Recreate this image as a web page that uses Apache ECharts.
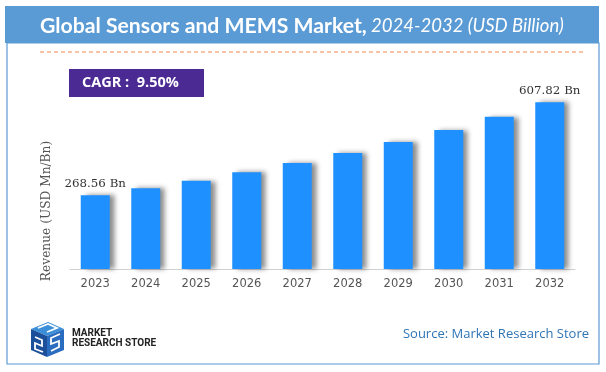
<!DOCTYPE html>
<html><head><meta charset="utf-8">
<script src="https://cdn.jsdelivr.net/npm/echarts@6/dist/echarts.min.js"></script>
<style>html,body{margin:0;padding:0;background:#fff;}#c{width:606px;height:372px;}</style>
</head><body><div id="c"></div>
<script>
const categories = ['2023','2024','2025','2026','2027','2028','2029','2030','2031','2032'];
const revenue = [268.56, 294.07, 322.01, 352.60, 386.10, 422.78, 462.94, 506.92, 555.08, 607.82];
const labelledIdx = [0, 9];
const titleMain = 'Global Sensors and MEMS Market,';
const titleSub = ' 2024-2032 (USD Billion)';
const cagrText = 'CAGR :  9.50%';
const yName = 'Revenue (USD Mn/Bn)';
const sourceText = 'Source: Market Research Store';

const chart = echarts.init(document.getElementById('c'), null, {renderer:'canvas'});
const barData = revenue.map((v,i)=>({
  value: v,
  label: {show: labelledIdx.includes(i), position:'top', distance:5,
    formatter: p => p.value.toFixed(2)+' Bn',
    fontFamily:'DejaVu Serif', fontSize:11.8, color:'#333'}
}));
chart.setOption({
  animation:false,
  grid:{left:70, right:31, top:77, bottom:103},
  xAxis:{type:'category', data:categories,
    axisLine:{lineStyle:{color:'#d0d0d0'}}, axisTick:{show:false},
    axisLabel:{fontFamily:'DejaVu Sans', fontSize:11.5, color:'#555', margin:9}},
  yAxis:{type:'value', min:0, max:700, show:false},
  series:[{type:'bar', data:barData, barWidth:29,
    itemStyle:{color:'#1E90FF', shadowColor:'rgba(0,0,0,0.45)', shadowBlur:5, shadowOffsetX:5, shadowOffsetY:0}}],
  graphic:[
    {type:'rect', shape:{x:7, y:43, width:592, height:321}, style:{fill:'none', stroke:'#5B9BD5', lineWidth:1.2}, z:1},
    {type:'rect', shape:{x:5, y:6, width:594, height:37}, style:{fill:'#5B9BD5'}, z:2},
    {type:'text', x:40, y:26, style:{text:'{a|'+titleMain+'}{b|'+titleSub+'}', verticalAlign:'middle',
      rich:{a:{fontFamily:'Lato', fontWeight:'bold', fontSize:21.2, fill:'#fff'},
            b:{fontFamily:'Lato', fontStyle:'italic', fontSize:18.5, fill:'#fff'}}}, z:3},
    {type:'line', shape:{x1:40, y1:52, x2:583, y2:52}, style:{stroke:'#F0894A', lineWidth:1, lineDash:[4,3]}, z:2},
    {type:'rect', shape:{x:69, y:69, width:135, height:28}, style:{fill:'#4B2A94'}, z:2},
    {type:'text', x:82, y:83, style:{text:cagrText, fill:'#fff', fontFamily:'Open Sans', fontWeight:'bold', fontSize:14.5, verticalAlign:'middle'}, z:3},
    {type:'text', x:47, y:211, rotation:Math.PI/2, style:{text:yName, fill:'#555', fontFamily:'DejaVu Serif', fontSize:12.2, align:'center', verticalAlign:'middle'}, z:3},
    // logo
    {type:'polygon', shape:{points:[[31,329],[48,322],[64,329],[47,336]]}, style:{fill:'#3B8ED8'}, z:3},
    {type:'polygon', shape:{points:[[31,329],[47,336],[47,357],[31,350]]}, style:{fill:'#1B4F9A'}, z:3},
    {type:'polygon', shape:{points:[[47,336],[64,329],[64,350],[47,357]]}, style:{fill:'#2A6CC0'}, z:3},
    {type:'polyline', shape:{points:[[38,328],[48,324],[57,328],[47,332]]}, style:{stroke:'#fff', lineWidth:1.8, fill:'none'}, z:4},
    {type:'polyline', shape:{points:[[35,337],[42,340],[42,346],[35,343],[35,349],[43,352]]}, style:{stroke:'#fff', lineWidth:1.8, fill:'none'}, z:4},
    {type:'polyline', shape:{points:[[60,334],[51,338],[51,344],[59,341],[59,347],[51,351]]}, style:{stroke:'#fff', lineWidth:1.8, fill:'none'}, z:4},
    {type:'text', x:72, y:333, style:{text:'MARKET', fill:'#222', fontFamily:'Liberation Sans Narrow, Roboto', fontWeight:'bold', fontSize:10, verticalAlign:'middle'}, z:3},
    {type:'text', x:72, y:343, style:{text:'RESEARCH STORE', fill:'#222', fontFamily:'Liberation Sans Narrow, Roboto', fontWeight:'bold', fontSize:10, verticalAlign:'middle'}, z:3},
    {type:'text', x:589, y:334, style:{text:sourceText, fill:'#2E75B6', fontFamily:'Open Sans', fontSize:13, align:'right', verticalAlign:'middle'}, z:3}
  ]
});
</script></body></html>
